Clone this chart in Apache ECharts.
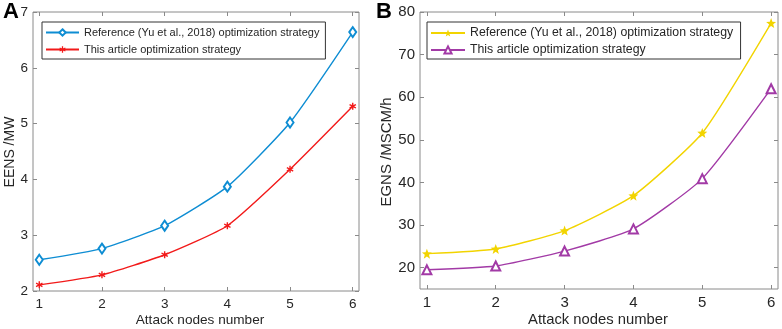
<!DOCTYPE html>
<html>
<head>
<meta charset="utf-8">
<script src="https://cdn.jsdelivr.net/npm/echarts@6/dist/echarts.min.js"></script>
<style>
    html, body { margin: 0; padding: 0; background: #fff; }
    #chart { width: 782px; height: 329px; }
</style>
</head>
<body>
<div id="chart"></div>
<script>
// data
const nodes = [1, 2, 3, 4, 5, 6];
const eensRef = [2.56, 2.76, 3.17, 3.87, 5.02, 6.64];
const eensOur = [2.11, 2.29, 2.65, 3.17, 4.18, 5.31];
const egnsRef = [23.3, 24.4, 28.7, 36.9, 51.6, 77.4];
const egnsOur = [19.5, 20.4, 23.9, 29.1, 40.9, 62.0];
const eensTicks = [2, 3, 4, 5, 6, 7];
const egnsTicks = [20, 30, 40, 50, 60, 70, 80];

const nameRef = 'Reference (Yu et al., 2018) optimization strategy';
const nameOur = 'This article optimization strategy';
// panel B has the same legend text; a trailing space keeps the two legends apart
const nameRefB = nameRef + ' ';
const nameOurB = nameOur + ' ';

const frame = '#8a8a8a';
const txt = '#262626';
const font = 'Liberation Sans, Arial, sans-serif';
const star = 'path://M0,-10L2.5,-3.5L9.5,-3.1L4,1.3L5.9,8.1L0,4.2L-5.9,8.1L-4,1.3L-9.5,-3.1L-2.5,-3.5Z';
const asterisk = 'path://M-1,-5L1,-5L1,-1.7L4.1,-3.3L5,-1.6L2,0L5,1.6L4.1,3.3L1,1.7L1,5L-1,5L-1,1.7L-4.1,3.3L-5,1.6L-2,0L-5,-1.6L-4.1,-3.3L-1,-1.7Z';

const pairs = (ys) => nodes.map((x, i) => [x, ys[i]]);

// one x axis (bottom or top) for a grid
const xAx = (grid, pos, size) => ({
    type: 'value',
    gridIndex: grid,
    position: pos,
    min: 0.9,
    max: 6.1,
    axisLine: { show: false },
    splitLine: { show: false },
    axisTick: { show: true, inside: true, length: 4, customValues: nodes, lineStyle: { color: frame } },
    axisLabel: {
        show: pos === 'bottom',
        customValues: nodes,
        color: txt,
        fontSize: size,
        fontFamily: font,
        margin: 6
    }
});

const yAx = (grid, pos, min, max, ticks, size) => ({
    type: 'value',
    gridIndex: grid,
    position: pos,
    min: min,
    max: max,
    axisLine: { show: false },
    splitLine: { show: false },
    axisTick: { show: true, inside: true, length: 4, customValues: ticks, lineStyle: { color: frame } },
    axisLabel: {
        show: pos === 'left',
        customValues: ticks,
        color: txt,
        fontSize: size,
        fontFamily: font,
        margin: 5
    }
});

const lineSeries = (name, data, color, symbol, size, xi, yi) => ({
    name: name,
    type: 'line',
    xAxisIndex: xi,
    yAxisIndex: yi,
    data: pairs(data),
    smooth: 0.18,
    symbol: symbol,
    symbolSize: size,
    lineStyle: { color: color, width: 1.4 },
    itemStyle: { color: color, borderWidth: 1.3 }
});

const option = {
    animation: false,
    backgroundColor: '#fff',
    title: [
        { text: 'A', left: -2, top: -4, textStyle: { fontSize: 22, fontWeight: 'bold', color: '#000', fontFamily: font } },
        { text: 'B', left: 371, top: -4, textStyle: { fontSize: 22, fontWeight: 'bold', color: '#000', fontFamily: font } }
    ],
    grid: [
        { left: 33, top: 12, width: 326, height: 279, show: true, borderColor: frame, borderWidth: 1, backgroundColor: '#fff' },
        { left: 420, top: 12, width: 358, height: 277, show: true, borderColor: frame, borderWidth: 1, backgroundColor: '#fff' }
    ],
    legend: [
        {
            data: [nameRef, nameOur],
            orient: 'vertical',
            left: 42,
            top: 22,
            padding: [5, 6, 4, 3],
            itemGap: 6,
            itemWidth: 33,
            itemHeight: 8,
            borderColor: '#333',
            borderWidth: 1,
            backgroundColor: '#fff',
            textStyle: { fontSize: 11, color: txt, fontFamily: font }
        },
        {
            data: [nameRefB, nameOurB],
            orient: 'vertical',
            left: 427,
            top: 22,
            padding: [5, 4, 3, 3],
            itemGap: 5,
            itemWidth: 34,
            itemHeight: 9,
            borderColor: '#333',
            borderWidth: 1,
            backgroundColor: '#fff',
            textStyle: { fontSize: 12.3, color: txt, fontFamily: font }
        }
    ],
    graphic: [
        { type: 'text', x: 200, y: 320, style: { text: 'Attack nodes number', fill: txt, font: '13.6px ' + font, align: 'center', verticalAlign: 'middle' } },
        { type: 'text', x: 598, y: 320, style: { text: 'Attack nodes number', fill: txt, font: '14.8px ' + font, align: 'center', verticalAlign: 'middle' } },
        { type: 'text', x: 10, y: 152, rotation: Math.PI / 2, style: { text: 'EENS /MW', fill: txt, font: '14px ' + font, align: 'center', verticalAlign: 'middle' } },
        { type: 'text', x: 387, y: 152, rotation: Math.PI / 2, style: { text: 'EGNS /MSCM/h', fill: txt, font: '15px ' + font, align: 'center', verticalAlign: 'middle' } }
    ],
    xAxis: [xAx(0, 'bottom', 13.5), xAx(0, 'top', 13.5), xAx(1, 'bottom', 15), xAx(1, 'top', 15)],
    yAxis: [
        yAx(0, 'left', 2, 7, eensTicks, 13.5),
        yAx(0, 'right', 2, 7, eensTicks, 13.5),
        yAx(1, 'left', 15, 80, egnsTicks, 15),
        yAx(1, 'right', 15, 80, egnsTicks, 15)
    ],
    series: [
        lineSeries(nameRef, eensRef, '#0e8dd3', 'emptyDiamond', [7, 10], 0, 0),
        lineSeries(nameOur, eensOur, '#f21a1a', asterisk, 7, 0, 0),
        lineSeries(nameRefB, egnsRef, '#f2d400', star, 10, 2, 2),
        lineSeries(nameOurB, egnsOur, '#a23aa6', 'emptyTriangle', 9, 2, 2)
    ]
};

const chart = echarts.init(document.getElementById('chart'));
chart.setOption(option);
</script>
</body>
</html>
